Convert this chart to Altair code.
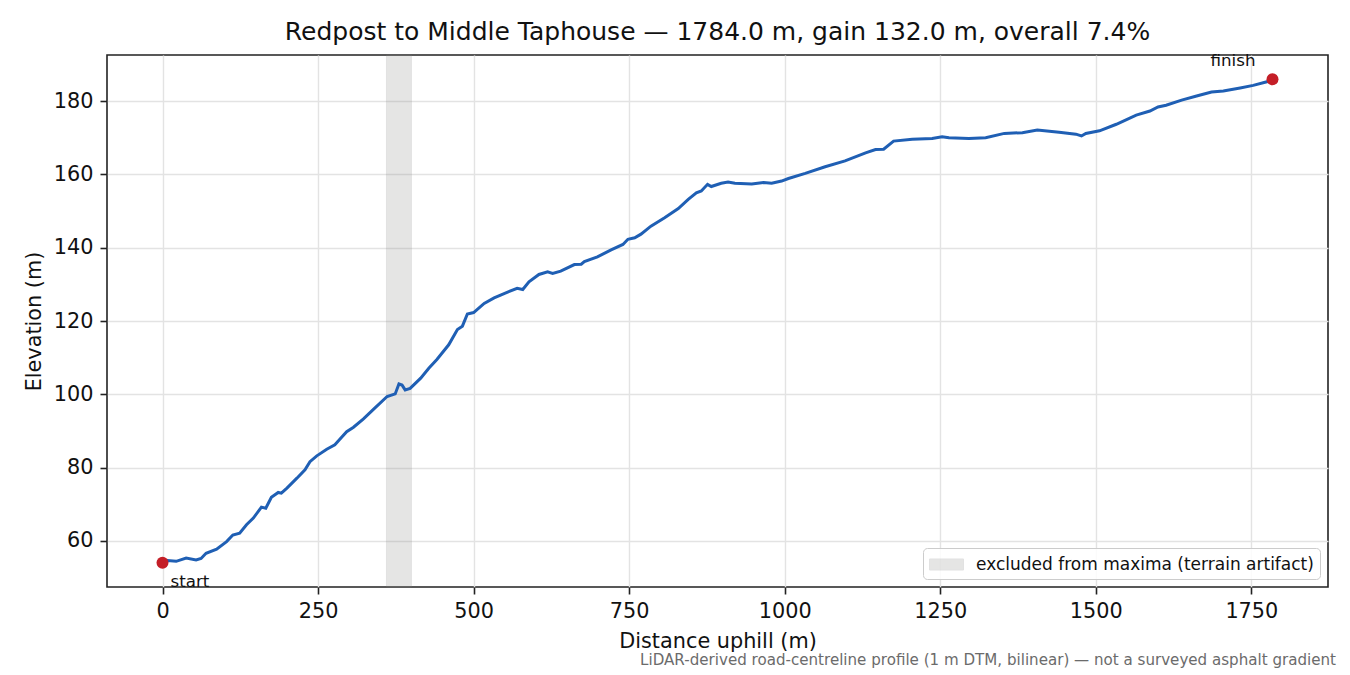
import altair as alt
import pandas as pd

# Road profile (distance uphill in m, elevation in m)
distance_m = [
    0, 8, 22, 38, 54, 62, 70, 87, 103, 113, 124, 135, 146, 159, 166, 175, 186, 191,
    200, 216, 229, 237, 248, 264, 277, 285, 296, 307, 323, 339, 361, 374, 380, 385,
    390, 398, 415, 428, 441, 460, 474, 482, 490, 500, 517, 533, 549, 570, 579, 589,
    605, 619, 627, 640, 662, 673, 678, 699, 721, 740, 748, 759, 769, 785, 807, 829,
    845, 858, 866, 876, 882, 898, 909, 920, 947, 966, 979, 995, 1006, 1033, 1065,
    1097, 1130, 1146, 1159, 1175, 1205, 1237, 1253, 1264, 1296, 1323, 1353, 1382,
    1406, 1441, 1468, 1477, 1484, 1506, 1533, 1565, 1587, 1600, 1613, 1638, 1662,
    1686, 1705, 1732, 1753, 1775, 1784,
]
elevation_m = [
    54.0, 54.6, 54.4, 55.3, 54.8, 55.2, 56.6, 57.7, 59.8, 61.6, 62.1, 64.4, 66.2,
    69.2, 68.9, 71.9, 73.2, 73.0, 74.4, 77.1, 79.4, 81.6, 83.2, 85.0, 86.2, 87.7,
    89.8, 91.0, 93.3, 95.9, 99.4, 100.1, 102.8, 102.5, 101.2, 101.6, 104.4, 107.1,
    109.5, 113.5, 117.7, 118.6, 121.9, 122.3, 124.8, 126.3, 127.5, 128.9, 128.6,
    130.7, 132.7, 133.4, 133.0, 133.6, 135.4, 135.5, 136.2, 137.5, 139.4, 140.9,
    142.3, 142.7, 143.7, 145.9, 148.2, 150.7, 153.2, 155.0, 155.5, 157.3, 156.7,
    157.6, 157.9, 157.6, 157.4, 157.8, 157.6, 158.2, 158.9, 160.3, 162.1, 163.7,
    165.9, 166.8, 166.9, 169.1, 169.6, 169.8, 170.3, 170.0, 169.8, 170.0, 171.2,
    171.4, 172.1, 171.5, 171.0, 170.5, 171.2, 171.9, 173.7, 176.2, 177.3, 178.4,
    178.9, 180.3, 181.4, 182.5, 182.8, 183.6, 184.3, 185.3, 186.0,
]

# Excluded stretch (terrain artifact)
band_start = [360]
band_end = [400]
band_label = ["excluded from maxima (terrain artifact)"]

# Endpoints
end_names = ["start", "finish"]
end_dist = [0, 1784]
end_elev = [54.0, 186.0]

x_ticks = [0, 250, 500, 750, 1000, 1250, 1500, 1750]
y_ticks = [60, 80, 100, 120, 140, 160, 180]

title_text = "Redpost to Middle Taphouse \u2014 1784.0 m, gain 132.0 m, overall 7.4%"
footnote = ("LiDAR-derived road-centreline profile (1 m DTM, bilinear) \u2014 "
            "not a surveyed asphalt gradient")

FONT = "DejaVu Sans"
W, H = 1221, 532

profile = pd.DataFrame({"dist": distance_m, "elev": elevation_m})
band = pd.DataFrame({"start": band_start, "end": band_end, "label": band_label})
ends = pd.DataFrame({"name": end_names, "dist": end_dist, "elev": end_elev})

x_scale = alt.Scale(domain=[-89.2, 1873.2], nice=False, zero=False)
y_scale = alt.Scale(domain=[47.4, 192.6], nice=False, zero=False)

x_axis = alt.Axis(values=x_ticks, format="d", title="Distance uphill (m)", titlePadding=11)
y_axis = alt.Axis(values=y_ticks, format="d", title="Elevation (m)", titlePadding=9)

band_layer = (
    alt.Chart(band)
    .mark_rect(opacity=0.22, stroke="#7f7f7f", strokeWidth=1)
    .encode(
        x=alt.X("start:Q", scale=x_scale, axis=x_axis),
        x2="end:Q",
        y=alt.value(0),
        y2=alt.value(H),
        color=alt.Color(
            "label:N",
            scale=alt.Scale(range=["#8c8c88"]),
            legend=alt.Legend(
                title=None,
                orient="bottom-right",
                offset=8,
                padding=6,
                symbolType="M-1.7,-0.55L1.7,-0.55L1.7,0.55L-1.7,0.55Z",
                symbolSize=400,
                symbolOffset=7,
                symbolOpacity=0.22,
                symbolStrokeColor="#7f7f7f",
                symbolStrokeWidth=1,
                labelOffset=19,
                labelFontSize=17,
                labelFont=FONT,
                labelColor="#111",
                labelLimit=0,
                fillColor="rgba(255,255,255,0.85)",
                strokeColor="#cccccc",
                cornerRadius=4,
            ),
        ),
    )
)

line_layer = (
    alt.Chart(profile)
    .mark_line(color="#1f5fb4", strokeWidth=3)
    .encode(
        x=alt.X("dist:Q", scale=x_scale, axis=x_axis),
        y=alt.Y("elev:Q", scale=y_scale, axis=y_axis),
    )
)

points_layer = (
    alt.Chart(ends)
    .mark_circle(color="#c41e27", size=144, opacity=1)
    .encode(x="dist:Q", y="elev:Q")
)

start_label = (
    alt.Chart(ends[ends["name"] == "start"])
    .mark_text(align="left", baseline="middle", dx=8, dy=19, fontSize=16.7, font=FONT, color="#111")
    .encode(x="dist:Q", y="elev:Q", text="name:N")
)

finish_label = (
    alt.Chart(ends[ends["name"] == "finish"])
    .mark_text(align="right", baseline="middle", dx=-17, dy=-18, fontSize=16.7, font=FONT, color="#111")
    .encode(x="dist:Q", y="elev:Q", text="name:N")
)

foot_layer = (
    alt.Chart(pd.DataFrame({"note": [footnote]}))
    .mark_text(align="right", baseline="middle", fontSize=15.1, font=FONT, color="#6b6b6b")
    .encode(x=alt.value(W + 8), y=alt.value(H + 73), text="note:N")
)

chart = (
    alt.layer(band_layer, line_layer, points_layer, start_label, finish_label, foot_layer)
    .properties(
        width=W,
        height=H,
        title=alt.TitleParams(
            title_text,
            font=FONT,
            fontSize=25,
            fontWeight="normal",
            color="#111",
            anchor="middle",
            offset=8,
        ),
        autosize=alt.AutoSizeParams(type="none"),
        padding={"left": 99, "top": 47, "right": 14, "bottom": 84},
    )
    .configure_view(stroke="#222", strokeWidth=1.6)
    .configure_axis(
        domain=False,
        labelFont=FONT,
        labelFontSize=20.8,
        labelColor="#111",
        titleFont=FONT,
        titleFontSize=20.8,
        titleFontWeight="normal",
        titleColor="#111",
        tickColor="#222",
        tickSize=7,
        tickWidth=1.6,
        labelPadding=7,
        gridColor="#e3e3e3",
        gridWidth=1.4,
    )
)

chart.save("out.html", embed_options={"renderer": "svg", "actions": False})
